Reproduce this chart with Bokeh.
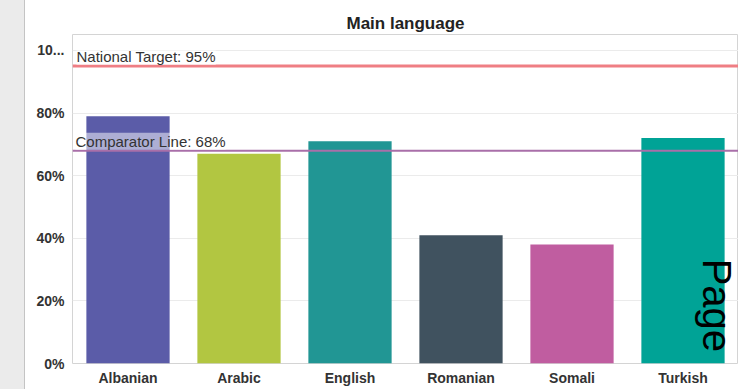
import math
from bokeh.plotting import figure
from bokeh.models import Range1d, FixedTicker, PrintfTickFormatter, Span, Label, Div
from bokeh.layouts import row
from bokeh.embed import file_html
from bokeh.resources import INLINE

# ---- data ----
languages = ["Albanian", "Arabic", "English", "Romanian", "Somali", "Turkish"]
values = [79, 67, 71, 41, 38, 72]          # percent
bar_colors = ["#5b5ca8", "#b2c641", "#219694", "#40525f", "#c05da0", "#00a396"]
national_target = 95
comparator = 68
y_ticks = [0, 20, 40, 60, 80, 100]

FONT = "Liberation Sans"

xs = list(range(len(languages)))

p = figure(width=713, height=389, output_backend="svg", toolbar_location=None,
           x_range=Range1d(-0.5, -0.5 + 666 / 111), y_range=Range1d(0, 105.1),
           min_border_left=47, min_border_right=0, min_border_top=34, min_border_bottom=26)

p.vbar(x=xs, top=values, width=0.75, color=bar_colors, line_color=None)

# reference lines
p.add_layout(Span(location=national_target, dimension="width", line_color="#ef7e84", line_width=3))
p.add_layout(Span(location=comparator, dimension="width", line_color="#a96fa9", line_width=2))

p.add_layout(Label(x=p.x_range.start, y=national_target, x_offset=4, y_offset=1,
                   text=f"National Target: {national_target}%", text_font=FONT,
                   text_font_size="15px", text_color="#333333", text_baseline="bottom",
                   background_fill_color="white", background_fill_alpha=0.5))
p.add_layout(Label(x=p.x_range.start, y=comparator, x_offset=3, y_offset=1,
                   text=f"Comparator Line: {comparator}%", text_font=FONT,
                   text_font_size="15px", text_color="#333333", text_baseline="bottom",
                   background_fill_color="white", background_fill_alpha=0.5))

# page watermark
p.add_layout(Label(x=5.112, y=33.5, text="Page 1", angle=-math.pi / 2,
                   text_font=FONT, text_font_size="40px", text_color="black",
                   text_baseline="bottom"))

# title
p.title.text = "Main language"
p.title.align = "center"
p.title.text_font = FONT
p.title.text_font_size = "17px"
p.title.text_font_style = "bold"
p.title.text_color = "#222222"
p.title.standoff = 4

# axes
p.xaxis.ticker = FixedTicker(ticks=xs)
p.xaxis.major_label_overrides = {i: lab for i, lab in zip(xs, languages)}
p.xaxis.axis_line_color = None
p.xaxis.major_tick_line_color = None
p.xaxis.minor_tick_line_color = None
p.xaxis.major_label_standoff = 0
p.xaxis.major_label_text_font = FONT
p.xaxis.major_label_text_font_size = "14px"
p.xaxis.major_label_text_font_style = "bold"
p.xaxis.major_label_text_color = "#333333"

p.yaxis.ticker = FixedTicker(ticks=y_ticks)
p.yaxis.formatter = PrintfTickFormatter(format="%d%%")
p.yaxis.major_label_overrides = {100: "10..."}
p.yaxis.axis_line_color = None
p.yaxis.major_tick_line_color = None
p.yaxis.minor_tick_line_color = None
p.yaxis.major_label_standoff = 2
p.yaxis.major_label_text_font = FONT
p.yaxis.major_label_text_font_size = "14px"
p.yaxis.major_label_text_font_style = "bold"
p.yaxis.major_label_text_color = "#333333"

p.xgrid.grid_line_color = None
p.ygrid.grid_line_color = "#ebebeb"
p.outline_line_color = "#d4d4d4"
p.background_fill_color = "white"
p.border_fill_color = "white"

strip = Div(width=25, height=389, margin=0,
            styles={"background-color": "#ebebeb", "box-sizing": "border-box",
                    "border-right": "1px solid #c4c4c4"})

layout = row(strip, p)
open("out.html", "w").write(file_html(layout, INLINE))
